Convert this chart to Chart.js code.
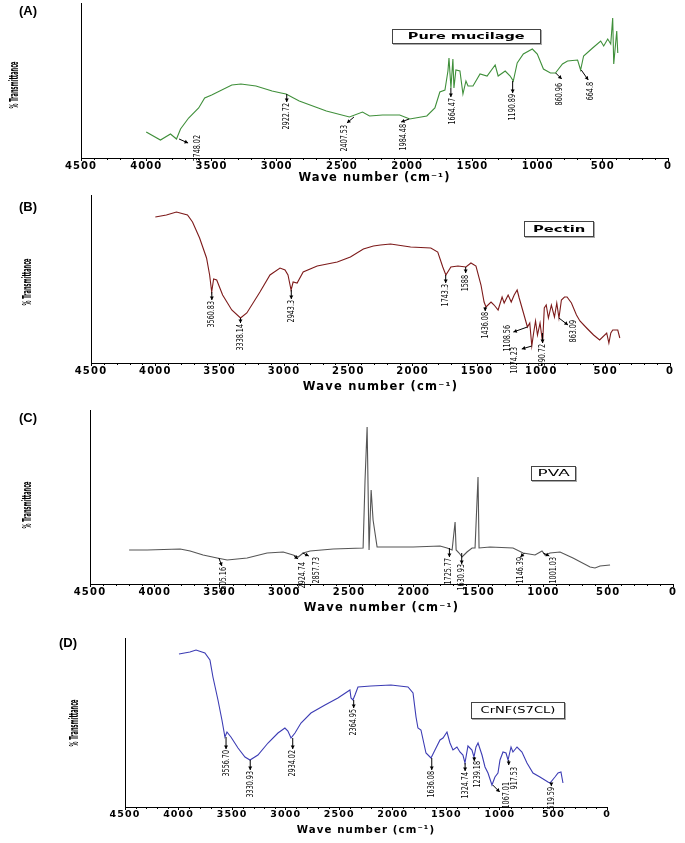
<!DOCTYPE html>
<html>
<head>
<meta charset="utf-8">
<script src="https://cdn.jsdelivr.net/npm/chart.js@4.4.0/dist/chart.umd.min.js"></script>
<style>
  body { margin: 0; background: #fff; }
  #fig { position: relative; width: 685px; height: 843px; overflow: hidden; }
  #fig canvas { position: absolute; left: 0; }
  .tag { position: absolute; font: bold 13px 'Liberation Sans Narrow', 'Liberation Sans', sans-serif; line-height: 13px; color: #000; }
  .box { position: absolute; border: 1px solid #444; box-shadow: 1px 1px 0 #aaa; background: #fff;
         display: flex; align-items: center; justify-content: center; font: 8px 'DejaVu Sans', sans-serif; color: #000; }
  .box span { display: inline-block; white-space: nowrap; }
</style>
</head>
<body>
<div id="fig"></div>
<script>
// (A) Pure mucilage
const waveA = [4000, 3891, 3814, 3768, 3737, 3675, 3598, 3552, 3498, 3344, 3274, 3159, 3035, 2966, 2928, 2827, 2619, 2442, 2342, 2288,
  2188, 2057, 1980, 1849, 1787, 1749, 1710, 1687, 1679, 1664, 1649, 1641, 1626, 1595, 1572, 1549, 1533, 1495, 1441, 1387,
  1325, 1302, 1248, 1210, 1186, 1156, 1109, 1040, 1002, 955, 901, 863, 809, 770, 693, 670, 647, 578, 516, 493,
  462, 439, 424, 416, 393, 385];
const transA = [26, 18, 24, 19, 29, 40, 50, 60, 63, 73, 74, 72, 67, 65, 64, 57, 47, 41, 46, 42,
  43, 43, 39, 42, 50, 66, 68, 87, 100, 70, 99, 70, 88, 87, 64, 77, 72, 72, 84, 82,
  93, 82, 87, 82, 77, 95, 104, 109, 104, 89, 85, 85, 94, 97, 98, 88, 102, 110, 117, 112,
  119, 114, 140, 94, 127, 105];
const peakWaveA = [3748.02, 2922.72, 2407.53, 1984.48, 1664.47, 1190.89, 860.96, 664.8];
const peakTransA = [19, 64, 41, 39, 70, 77, 85, 88];
const peakLabelA = ['3748.02', '2922.72', '2407.53', '1984.48', '1664.47', '1190.89', '860.96', '664.8'];

// (B) Pectin
const waveB = [4000, 3914, 3836, 3750, 3711, 3656, 3602, 3578, 3562, 3547, 3523, 3477, 3406, 3338, 3289, 3187, 3109, 3031, 2992, 2969,
  2945, 2929, 2898, 2851, 2742, 2664, 2586, 2484, 2383, 2305, 2250, 2172, 2016, 1859, 1805, 1766, 1742, 1703, 1648, 1586,
  1547, 1508, 1469, 1445, 1430, 1391, 1367, 1336, 1305, 1289, 1258, 1234, 1211, 1188, 1172, 1141, 1108, 1090, 1074, 1060,
  1045, 1030, 1010, 990, 977, 962, 945, 922, 898, 880, 863, 844, 820, 800, 766, 727, 700, 648, 594, 547,
  492, 475, 460, 445, 406, 390];
const transB = [146, 148, 151, 148, 141, 125, 105, 88, 71, 84, 83, 68, 53, 45, 50, 71, 88, 95, 93, 88,
  73, 81, 80, 91, 97, 99, 101, 106, 114, 117, 118, 119, 116, 115, 111, 96, 88, 96, 97, 96,
  100, 97, 78, 61, 56, 61, 58, 53, 66, 60, 68, 61, 68, 73, 65, 51, 36, 40, 17, 30,
  42, 28, 40, 20, 55, 58, 45, 58, 46, 60, 45, 63, 66, 66, 60, 48, 42, 35, 28, 23,
  30, 20, 30, 33, 33, 25];
const peakWaveB = [3560.83, 3338.14, 2943.3, 1743.3, 1588, 1436.08, 1108.56, 1074.23, 990.72, 863.09];
const peakTransB = [71, 45, 73, 88, 96, 56, 36, 17, 20, 45];
const peakLabelB = ['3560.83', '3338.14', '2943.3', '1743.3', '1588', '1436.08', '1108.56', '1074.23', '990.72', '863.09'];

// (C) PVA
const waveC = [4198, 4059, 3804, 3727, 3627, 3519, 3441, 3287, 3133, 3009, 2932, 2893, 2855, 2801, 2623, 2392, 2377, 2361, 2346, 2330,
  2315, 2284, 2106, 2006, 1798, 1744, 1705, 1682, 1674, 1651, 1628, 1590, 1551, 1528, 1505, 1497, 1412, 1235, 1157, 1065,
  1011, 988, 949, 872, 772, 640, 602, 563, 486];
const transC = [34, 34, 35, 33, 29, 26, 24, 26, 31, 32, 29, 27, 31, 33, 35, 36, 104, 157, 34, 94,
  64, 37, 37, 37, 38, 36, 34, 62, 34, 31, 27, 32, 36, 36, 107, 36, 37, 36, 31, 29,
  33, 29, 31, 32, 26, 17, 16, 18, 19];
const peakWaveC = [3505.16, 2924.74, 2857.73, 1725.77, 1630.93, 1146.39, 1001.03];
const peakTransC = [26, 28, 31, 36, 27, 31, 31];
const peakLabelC = ['3505.16', '2924.74', '2857.73', '1725.77', '1630.93', '1146.39', '1001.03'];

// (D) CrNF(S7CL)
const waveD = [3996, 3894, 3837, 3754, 3707, 3679, 3632, 3595, 3567, 3548, 3511, 3445, 3380, 3333, 3259, 3165, 3072, 3007, 2979, 2950,
  2913, 2857, 2764, 2633, 2512, 2400, 2390, 2372, 2353, 2325, 2204, 2017, 1858, 1811, 1783, 1765, 1737, 1690, 1643, 1606,
  1559, 1531, 1494, 1466, 1438, 1401, 1373, 1345, 1326, 1298, 1261, 1242, 1223, 1204, 1167, 1139, 1111, 1074, 1046, 1018,
  999, 971, 943, 924, 896, 878, 840, 794, 747, 691, 626, 551, 532, 486, 457, 430, 411];
const transD = [153, 155, 157, 154, 147, 130, 107, 87, 70, 75, 70, 59, 50, 47, 52, 64, 74, 79, 76, 69,
  74, 84, 94, 102, 109, 117, 109, 107, 112, 120, 121, 122, 120, 114, 90, 79, 77, 54, 49, 57,
  67, 69, 75, 64, 57, 60, 55, 52, 44, 61, 57, 50, 60, 64, 52, 40, 34, 22, 30, 34,
  47, 55, 54, 47, 60, 55, 60, 55, 44, 34, 30, 25, 24, 30, 34, 35, 24];
const peakWaveD = [3556.70, 3330.93, 2934.02, 2364.95, 1636.08, 1324.74, 1239.18, 1067.01, 917.53, 519.59];
const peakTransD = [70, 47, 69, 107, 49, 44, 50, 22, 47, 24];
const peakLabelD = ['3556.70', '3330.93', '2934.02', '2364.95', '1636.08', '1324.74', '1239.18', '1067.01', '917.53', '519.59'];

const panelTags = ['(A)', '(B)', '(C)', '(D)'];
const sampleNames = ['Pure mucilage', 'Pectin', 'PVA', 'CrNF(S7CL)'];
const xTitle = 'Wave number (cm\u207B\u00B9)';
const yTitle = '% Transmittance';

// arrow start, arrow end, label top (px offsets from the peak point)
const calloutA = [[0,0,9,4,18,-4], [0,0,0,8,0,9], [0,0,-7,6,-9,8], [0,0,-8,3,-6,5], [0,0,0,9,2,10],
  [0,0,0,12,0,13], [0,0,6,6,4,10], [0,0,7,10,9,12]];
const calloutB = [[0,0,0,8,0,9], [0,0,0,5,0,6], [0,0,0,9,0,10], [0,0,0,8,0,9], [0,0,0,6,0,8],
  [0,0,0,4,0,5], [0,0,-14,5,-20,-2], [0,0,-10,3,-17,1], [0,-10,0,0,0,1], [0,0,9,7,15,2]];
const calloutC = [[0,0,3,8,5,9], [0,0,4,3,8,6], [0,0,6,3,14,4], [0,0,0,9,-1,10], [0,-4,0,7,0,7],
  [0,0,-4,4,-4,4], [0,0,6,3,10,4]];
const calloutD = [[0,0,0,12,0,13], [0,0,0,10,0,11], [0,0,0,11,0,12], [0,0,0,8,0,9], [0,0,0,12,0,13],
  [0,0,0,8,0,9], [0,0,0,4,3,4], [0,0,7,7,14,-3], [0,0,0,5,6,7], [0,0,0,3,0,4]];

const panels = [
  { wave: waveA, trans: transA, pw: peakWaveA, pt: peakTransA, pl: peakLabelA, co: calloutA, color: '#3f8f3a',
    top: 0, height: 192, area: { left: 81, right: 668, top: 3, bottom: 158 }, ymax: 155, titleY: 178,
    tickSize: 10, titleSize: 11.5, spacing: 1, yTitlePos: [15, 85],
    tagPos: [19, 4], box: { left: 392, top: 29, width: 147, height: 13, bold: true, stretch: 1.81 } },
  { wave: waveB, trans: transB, pw: peakWaveB, pt: peakTransB, pl: peakLabelB, co: calloutB, color: '#7d1a1a',
    top: 192, height: 210, area: { left: 91, right: 670, top: 195, bottom: 363 }, ymax: 168, titleY: 387,
    tickSize: 10, titleSize: 11.5, spacing: 1.2, yTitlePos: [28, 282],
    tagPos: [19, 200], box: { left: 524, top: 221, width: 68, height: 14, bold: true, stretch: 1.85 } },
  { wave: waveC, trans: transC, pw: peakWaveC, pt: peakTransC, pl: peakLabelC, co: calloutC, color: '#555555',
    top: 402, height: 222, area: { left: 90, right: 673, top: 410, bottom: 584 }, ymax: 174, titleY: 608,
    tickSize: 10, titleSize: 11.5, spacing: 1.2, yTitlePos: [28, 505],
    tagPos: [19, 411], box: { left: 531, top: 466, width: 43, height: 13, bold: false, stretch: 2.1 } },
  { wave: waveD, trans: transD, pw: peakWaveD, pt: peakTransD, pl: peakLabelD, co: calloutD, color: '#3c3cb4',
    top: 624, height: 219, area: { left: 125, right: 607, top: 638, bottom: 807 }, ymax: 169, titleY: 830,
    tickSize: 9.5, titleSize: 10.2, spacing: 1.1, yTitlePos: [75, 723],
    tagPos: [59, 636], box: { left: 471, top: 702, width: 92, height: 15, bold: false, stretch: 1.63 } }
];

const fig = document.getElementById('fig');

function makeCallouts(p) {
  return {
    id: 'callouts',
    beforeDraw(chart) {
      chart.ctx.letterSpacing = p.spacing + 'px';
    },
    afterDraw(chart) {
      const ctx = chart.ctx;
      const xs = chart.scales.x, ys = chart.scales.y;
      ctx.save();
      ctx.letterSpacing = '0px';
      ctx.strokeStyle = '#000';
      ctx.fillStyle = '#000';
      ctx.lineWidth = 1;

      // minor ticks every 100
      ctx.beginPath();
      for (let v = 100; v < 4500; v += 100) {
        if (v % 500 === 0) continue;
        const x = Math.round(xs.getPixelForValue(v)) + 0.5;
        ctx.moveTo(x, xs.top);
        ctx.lineTo(x, xs.top + 2);
      }
      ctx.stroke();

      // y axis title, squeezed like the original export
      ctx.save();
      ctx.translate(p.yTitlePos[0], p.yTitlePos[1] - p.top);
      ctx.rotate(-Math.PI / 2);
      ctx.font = "bold 13px 'Liberation Sans Narrow', 'DejaVu Sans Condensed', sans-serif";
      ctx.textAlign = 'center';
      ctx.textBaseline = 'middle';
      ctx.fillText(yTitle, 0, 0, 47);
      ctx.restore();

      // peak callouts
      p.pw.forEach((w, i) => {
        const px = xs.getPixelForValue(w);
        const py = ys.getPixelForValue(p.pt[i]);
        const [sx, sy, ex, ey, lx, ly] = p.co[i];
        const x0 = px + sx, y0 = py + sy, x1 = px + ex, y1 = py + ey;
        ctx.beginPath();
        ctx.moveTo(x0, y0);
        ctx.lineTo(x1, y1);
        ctx.stroke();
        const a = Math.atan2(y1 - y0, x1 - x0);
        ctx.beginPath();
        ctx.moveTo(x1, y1);
        ctx.lineTo(x1 - 3.5 * Math.cos(a) + 2 * Math.sin(a), y1 - 3.5 * Math.sin(a) - 2 * Math.cos(a));
        ctx.lineTo(x1 - 3.5 * Math.cos(a) - 2 * Math.sin(a), y1 - 3.5 * Math.sin(a) + 2 * Math.cos(a));
        ctx.closePath();
        ctx.fill();

        ctx.save();
        ctx.translate(px + lx, py + ly);
        ctx.rotate(-Math.PI / 2);
        ctx.scale(0.75, 1);
        ctx.font = "9.5px 'Liberation Sans Narrow', 'DejaVu Sans Condensed', sans-serif";
        ctx.textAlign = 'right';
        ctx.textBaseline = 'middle';
        ctx.fillText(p.pl[i], 0, 0);
        ctx.restore();
      });
      ctx.restore();
    }
  };
}

panels.forEach((p, k) => {
  const canvas = document.createElement('canvas');
  canvas.width = 685;
  canvas.height = p.height;
  canvas.style.top = p.top + 'px';
  fig.appendChild(canvas);

  const titleLh = p.titleSize * 1.2;
  const xHeight = Math.round(p.titleY + titleLh / 2 - p.area.bottom);
  const padTop = p.area.top - p.top;
  const padBottom = p.height - (p.area.bottom - p.top) - xHeight;

  new Chart(canvas, {
    type: 'line',
    data: {
      datasets: [{
        data: p.wave.map((w, i) => ({ x: w, y: p.trans[i] })),
        borderColor: p.color,
        borderWidth: 1.1,
        pointRadius: 0,
        tension: 0,
        fill: false
      }]
    },
    options: {
      responsive: false,
      animation: false,
      devicePixelRatio: 1,
      layout: { padding: { left: 0, right: 685 - p.area.right, top: padTop, bottom: padBottom } },
      plugins: { legend: { display: false }, tooltip: { enabled: false } },
      scales: {
        x: {
          type: 'linear',
          min: 0,
          max: 4500,
          reverse: true,
          afterFit(s) { s.height = xHeight; s.paddingLeft = 0; s.paddingRight = 0; },
          ticks: {
            stepSize: 500, autoSkip: false, maxRotation: 0, color: '#000', padding: -1,
            callback: v => String(v),
            font: { family: "'DejaVu Sans', sans-serif", weight: 'bold', size: p.tickSize }
          },
          grid: { display: true, drawOnChartArea: false, drawTicks: true, tickLength: 3, tickColor: '#000', color: '#000' },
          border: { display: true, color: '#000', width: 1 },
          title: {
            display: true, text: xTitle, color: '#000', padding: 0,
            font: { family: "'DejaVu Sans', sans-serif", weight: 'bold', size: p.titleSize }
          }
        },
        y: {
          min: 0,
          max: p.ymax,
          afterFit(s) { s.width = p.area.left; s.paddingTop = 0; s.paddingBottom = 0; },
          ticks: { display: false },
          grid: { display: false, drawTicks: false },
          border: { display: true, color: '#000', width: 1 }
        }
      }
    },
    plugins: [makeCallouts(p)]
  });

  const tag = document.createElement('div');
  tag.className = 'tag';
  tag.textContent = panelTags[k];
  tag.style.left = p.tagPos[0] + 'px';
  tag.style.top = p.tagPos[1] + 'px';
  fig.appendChild(tag);

  const box = document.createElement('div');
  box.className = 'box';
  box.style.left = p.box.left + 'px';
  box.style.top = p.box.top + 'px';
  box.style.width = p.box.width + 'px';
  box.style.height = p.box.height + 'px';
  box.style.fontWeight = p.box.bold ? 'bold' : 'normal';
  const span = document.createElement('span');
  span.textContent = sampleNames[k];
  span.style.transform = 'scaleX(' + p.box.stretch + ')';
  box.appendChild(span);
  fig.appendChild(box);
});
</script>
</body>
</html>
